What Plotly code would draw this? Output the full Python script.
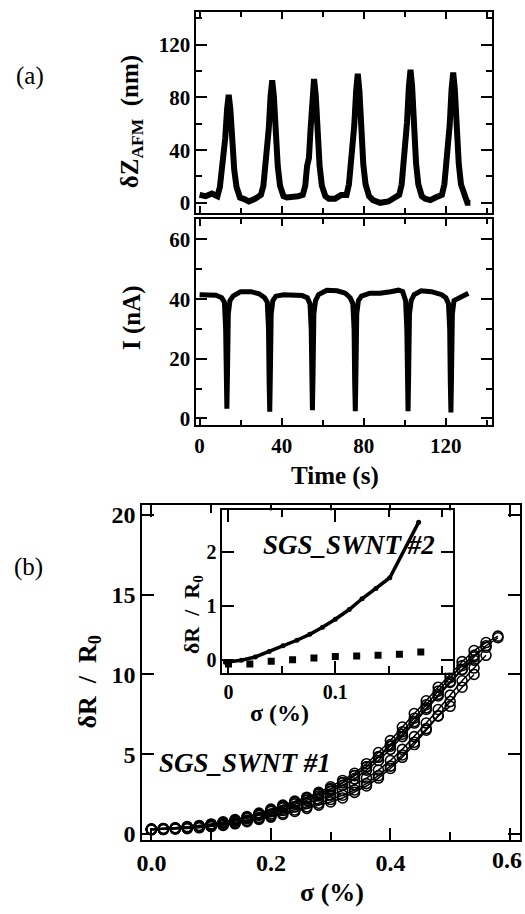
import plotly.graph_objects as go

W, H = 525, 914

# ---------------- Panel (a) top: AFM displacement ----------------
t_afm = [0, 3, 6,
         8.7, 9.9, 10.8, 11.7, 12.5, 13.4, 14.2, 15.0, 15.9, 16.9, 18.0, 19.7,
         21.5, 24, 27,
         29.9, 31.1, 32.0, 32.9, 33.7, 34.6, 35.4, 36.2, 37.1, 38.1, 39.2, 40.9,
         42.5, 45, 48,
         50.3, 51.5, 52.4, 53.3, 54.1, 55.0, 55.8, 56.6, 57.5, 58.5, 59.6, 61.3,
         63, 66, 69,
         71.6, 72.8, 73.7, 74.6, 75.4, 76.3, 77.1, 77.9, 78.8, 79.8, 80.9, 82.6,
         84.5, 88, 92, 95,
         97.3, 98.5, 99.4, 100.3, 101.1, 102.0, 102.8, 103.6, 104.5, 105.5, 106.6, 108.3,
         110, 112.5, 115,
         118.1, 119.3, 120.2, 121.1, 121.9, 122.8, 123.6, 124.4, 125.3, 126.3, 127.4, 129.1,
         130.5, 132]
z_afm = [6, 5, 7,
         5, 12, 25, 30, 49, 71, 82, 71, 45, 25, 12, 4,
         3, 1, 3,
         6, 13, 28, 33, 56, 81, 93, 81, 51, 28, 13, 5,
         4, 4, 5,
         6, 13, 28, 34, 56, 82, 94, 82, 52, 28, 13, 5,
         3, 3, 6,
         6, 14, 29, 35, 59, 85, 98, 85, 54, 29, 14, 5,
         2, 0, 1, 4,
         6, 14, 30, 36, 61, 88, 101, 88, 56, 30, 14, 5,
         3, 2, 4,
         6, 14, 30, 36, 59, 86, 99, 86, 54, 30, 14, 5,
         0, 0]

# ---------------- Panel (a) bottom: current ----------------
t_cur = [0, 4, 8,
         10.8, 12.1, 12.7, 13.0, 13.3, 13.6, 14.0, 14.8, 16.3,
         20, 25, 29,
         31.7, 33.0, 33.6, 33.9, 34.2, 34.5, 34.9, 35.7, 37.2,
         41, 46, 50,
         52.5, 53.8, 54.4, 54.7, 55.0, 55.3, 55.7, 56.5, 58,
         62, 67, 71,
         73.4, 74.7, 75.3, 75.6, 75.9, 76.2, 76.6, 77.4, 78.9,
         83, 88, 93, 97,
         99, 100.4, 101.0, 101.3, 101.6, 101.9, 102.3, 103.1, 104.6,
         108, 113, 118,
         120.0, 121.3, 121.9, 122.2, 122.5, 122.8, 123.2, 124.0, 125.5,
         128, 131]
i_cur = [41.5, 41.5, 41.3,
         40.5, 39.0, 30, 12, 3.3, 15, 35, 39.5, 41,
         42.5, 42.5, 41.8,
         40.5, 39, 30, 12, 2.3, 15, 35, 39.5, 41,
         41.5, 41.5, 41.2,
         40.5, 38.5, 30, 12, 2.8, 15, 35, 39.5, 41.5,
         43, 42.8, 42,
         40.5, 38.5, 30, 12, 2.4, 15, 35, 39.5, 41,
         42, 42, 42.5, 43,
         42.5, 39.5, 30, 12, 2.4, 15, 35, 39.5, 41.5,
         42.8, 42.5, 41.5,
         40.5, 38.5, 30, 12, 2.0, 15, 35, 39.5, 40,
         41, 42]

# ---------------- Panel (b) main: SGS_SWNT #1 cycles ----------------
sigma_grid = [0.00, 0.02, 0.04, 0.06, 0.08, 0.10, 0.12, 0.14, 0.16, 0.18,
              0.20, 0.22, 0.24, 0.26, 0.28, 0.30, 0.32, 0.34, 0.36, 0.38,
              0.40, 0.42, 0.44, 0.46, 0.48, 0.50, 0.52, 0.54, 0.56, 0.58]
cycle1 = [0.30, 0.33, 0.38, 0.45, 0.52, 0.62, 0.75, 0.90, 1.08, 1.30,
          1.55, 1.80, 2.05, 2.30, 2.60, 2.95, 3.35, 3.80, 4.40, 5.10,
          5.85, 6.70, 7.55, 8.35, 9.20, 10.0, 10.8, 11.5, 12.0, 12.4]
cycle2 = [0.28, 0.31, 0.35, 0.41, 0.47, 0.56, 0.67, 0.80, 0.96, 1.16,
          1.40, 1.63, 1.87, 2.10, 2.38, 2.68, 3.05, 3.45, 4.00, 4.60,
          5.30, 6.10, 6.95, 7.80, 8.65, 9.50, 10.3, 11.1, 11.8, 12.3]
cycle3 = [0.30, 0.32, 0.36, 0.42, 0.49, 0.58, 0.70, 0.84, 1.00, 1.20,
          1.45, 1.70, 1.95, 2.20, 2.50, 2.80, 3.20, 3.65, 4.20, 4.85,
          5.60, 6.40, 7.25, 8.10, 8.95, 9.80, 10.55, 11.2, 11.7]
cycle4 = [0.26, 0.28, 0.32, 0.36, 0.42, 0.50, 0.60, 0.71, 0.85, 1.03,
          1.24, 1.46, 1.68, 1.90, 2.15, 2.42, 2.72, 3.08, 3.50, 4.00,
          4.60, 5.30, 6.10, 6.95, 7.80, 8.70, 9.60, 10.4, 11.2]
cycle5 = [0.30, 0.33, 0.37, 0.43, 0.50, 0.59, 0.71, 0.85, 1.02, 1.22,
          1.47, 1.72, 1.98, 2.24, 2.52, 2.84, 3.22, 3.66, 4.20, 4.80,
          5.50, 6.25, 7.05, 7.90, 8.75, 9.55, 10.3, 10.9]
cycle6 = [0.25, 0.27, 0.30, 0.33, 0.38, 0.45, 0.53, 0.63, 0.76, 0.90,
          1.05, 1.22, 1.40, 1.60, 1.80, 2.00, 2.25, 2.60, 3.00, 3.50,
          4.10, 4.80, 5.60, 6.50, 7.40, 8.30, 9.20, 10.0]
cycle7 = [0.27, 0.29, 0.32, 0.36, 0.41, 0.48, 0.57, 0.68, 0.81, 0.96,
          1.13, 1.31, 1.50, 1.70, 1.92, 2.15, 2.42, 2.75, 3.15, 3.65,
          4.25, 4.95, 5.75, 6.60, 7.40, 8.00]
cycles = [cycle1, cycle2, cycle3, cycle4, cycle5, cycle6, cycle7]

# ---------------- Panel (b) inset: SGS_SWNT #2 ----------------
sig_inset_line = [-0.003, 0.012, 0.025, 0.038, 0.051, 0.064, 0.076, 0.088,
                  0.100, 0.113, 0.125, 0.138, 0.151, 0.178]
dr_inset_line = [-0.05, -0.01, 0.05, 0.15, 0.26, 0.36, 0.47, 0.60,
                 0.75, 0.93, 1.13, 1.32, 1.52, 2.55]
sig_inset_sq = [0.00, 0.02, 0.04, 0.06, 0.08, 0.10, 0.12, 0.14, 0.16, 0.18]
dr_inset_sq = [-0.08, -0.08, -0.03, 0.00, 0.03, 0.06, 0.07, 0.08, 0.10, 0.14]

SERIF = "Liberation Serif"


def xdom(l, r):
    return [l / W, r / W]


def ydom(top, bottom):
    return [1 - bottom / H, 1 - top / H]


fig = go.Figure()

fig.add_trace(go.Scatter(x=t_afm, y=z_afm, mode="lines",
                         line=dict(color="black", width=6),
                         xaxis="x", yaxis="y", showlegend=False))
fig.add_trace(go.Scatter(x=t_cur, y=i_cur, mode="lines",
                         line=dict(color="black", width=5),
                         xaxis="x2", yaxis="y2", showlegend=False))
for cyc in cycles:
    fig.add_trace(go.Scatter(x=sigma_grid[:len(cyc)], y=cyc, mode="lines+markers",
                             line=dict(color="black", width=1.5),
                             marker=dict(symbol="circle-open", size=10, color="black",
                                         line=dict(width=1.6)),
                             xaxis="x3", yaxis="y3", showlegend=False))
fig.add_trace(go.Scatter(x=sig_inset_line, y=dr_inset_line, mode="lines+markers",
                         line=dict(color="black", width=3.5),
                         marker=dict(symbol="circle", size=5, color="black"),
                         xaxis="x4", yaxis="y4", showlegend=False))
fig.add_trace(go.Scatter(x=sig_inset_sq, y=dr_inset_sq, mode="markers",
                         marker=dict(symbol="square", size=7, color="black"),
                         xaxis="x4", yaxis="y4", showlegend=False))


def axis(domain, rng, anchor, fontsize, showlabels=True, **kw):
    d = dict(domain=domain, range=rng, anchor=anchor,
             showline=True, linecolor="black", linewidth=2, mirror="ticks",
             ticks="inside", tickcolor="black", tickwidth=2, ticklen=10,
             showgrid=False, zeroline=False, showticklabels=showlabels,
             tickfont=dict(family=SERIF, size=fontsize, color="black", weight="bold"))
    d.update(kw)
    return d


xa = xdom(192.7, 492)
fig.update_layout(
    width=W, height=H, margin=dict(l=0, r=0, t=0, b=0),
    paper_bgcolor="white", plot_bgcolor="white",
    xaxis=axis(xa, [-1.5, 142.7], "y", 21, showlabels=False,
               tickvals=[0, 40, 80, 120], ticklen=7,
               minor=dict(ticks="inside", dtick=20, ticklen=5, tickwidth=1.5, tickcolor="black")),
    yaxis=axis(ydom(9, 212), [-7.5, 145], "x", 21,
               tickvals=[0, 40, 80, 120], ticklen=11,
               minor=dict(ticks="inside", dtick=20, ticklen=6, tickwidth=1.5, tickcolor="black")),
    xaxis2=axis(xa, [-1.5, 142.7], "y2", 21,
                tickvals=[0, 40, 80, 120], ticklen=7,
                minor=dict(ticks="inside", dtick=20, ticklen=5, tickwidth=1.5, tickcolor="black")),
    yaxis2=axis(ydom(218, 427), [-2.3, 67], "x2", 21,
                tickvals=[0, 20, 40, 60], ticklen=11,
                minor=dict(ticks="inside", dtick=10, ticklen=6, tickwidth=1.5, tickcolor="black")),
    xaxis3=axis(xdom(138, 520), [-0.015, 0.617], "y3", 24,
                tickvals=[0, 0.2, 0.4, 0.6], ticktext=["0.0", "0.2", "0.4", ""], ticklen=12,
                minor=dict(ticks="inside", dtick=0.1, ticklen=8, tickwidth=1.5, tickcolor="black")),
    yaxis3=axis(ydom(508, 846), [-0.37, 20.6], "x3", 24,
                tickvals=[0, 5, 10, 15, 20], ticklen=12),
    xaxis4=axis(xdom(219, 452), [-0.0056, 0.210], "y4", 20,
                tickvals=[0, 0.1], ticktext=["0", "0.1"], ticklen=12,
                minor=dict(ticks="inside", dtick=0.05, ticklen=7, tickwidth=1.5, tickcolor="black")),
    yaxis4=axis(ydom(513, 677), [-0.24, 2.77], "x4", 20,
                tickvals=[0, 1, 2], ticklen=12),
)


def ann(text, x, y, size, angle=0, bold=True, italic=False, xanchor="center"):
    f = dict(family=SERIF, color="black", size=size,
             weight="bold" if bold else "normal",
             style="italic" if italic else "normal")
    fig.add_annotation(text=text, x=x / W, y=1 - y / H, xref="paper", yref="paper",
                       showarrow=False, textangle=angle, font=f,
                       xanchor=xanchor, yanchor="middle")


ann("(a)", 24, 74, 25, bold=False)
ann("(b)", 23, 570, 25, bold=False)
ann("δZ<sub>AFM</sub>\u00a0 (nm)", 127, 120, 25, angle=-90)
ann("I (nA)", 127, 318, 25, angle=-90)
ann("Time (s)", 333, 478, 25)
ann("δR\u00a0 /\u00a0 R<sub>0</sub>", 84, 687, 26, angle=-90)
ann("σ (%)", 330, 899, 26)
ann("0.6", 524, 866, 24, xanchor="right")
ann("δR\u00a0 /\u00a0 R<sub>0</sub>", 189, 618, 22, angle=-90)
ann("σ (%)", 277, 718, 24)
ann("SGS_SWNT #2", 347, 548, 27, italic=True)
ann("SGS_SWNT #1", 242, 768, 27, italic=True)

fig.write_html("out.html", config={"displayModeBar": False},
               post_script="document.body.style.margin='0';document.body.style.overflow='hidden';")
